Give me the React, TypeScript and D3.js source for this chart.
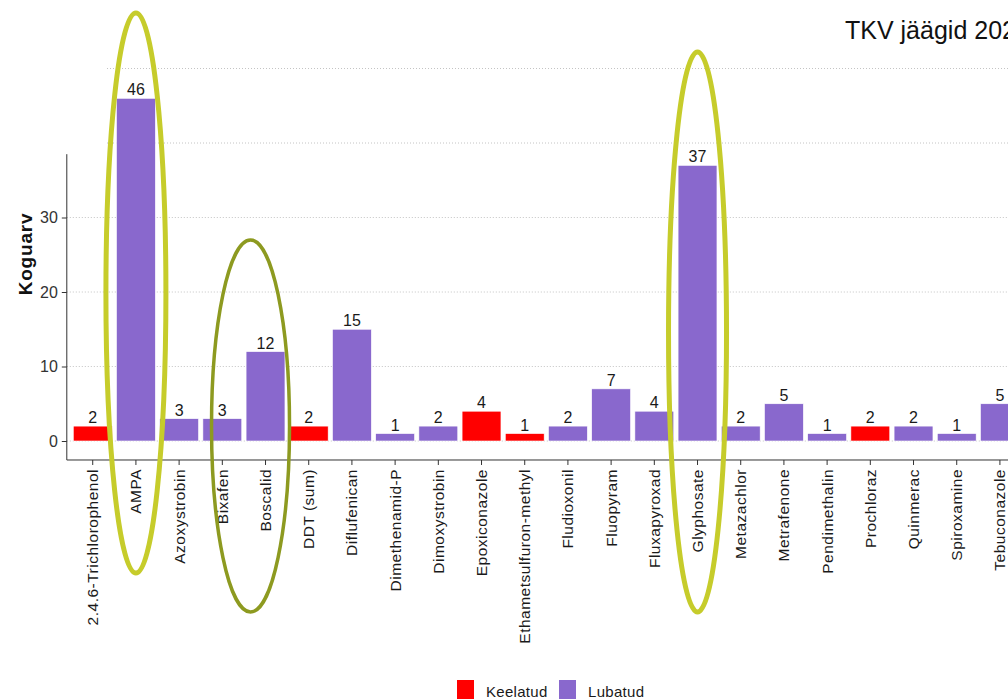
import React, { useEffect, useRef } from 'react';
import * as d3 from 'd3';

// substances found in the samples, in axis order
const substances = [
  '2.4.6-Trichlorophenol', 'AMPA', 'Azoxystrobin', 'Bixafen', 'Boscalid', 'DDT (sum)',
  'Diflufenican', 'Dimethenamid-P', 'Dimoxystrobin', 'Epoxiconazole', 'Ethametsulfuron-methyl',
  'Fludioxonil', 'Fluopyram', 'Fluxapyroxad', 'Glyphosate', 'Metazachlor', 'Metrafenone',
  'Pendimethalin', 'Prochloraz', 'Quinmerac', 'Spiroxamine', 'Tebuconazole',
];
const counts = [2, 46, 3, 3, 12, 2, 15, 1, 2, 4, 1, 2, 7, 4, 37, 2, 5, 1, 2, 2, 1, 5];
const status = [
  'Keelatud', 'Lubatud', 'Lubatud', 'Lubatud', 'Lubatud', 'Keelatud', 'Lubatud', 'Lubatud',
  'Lubatud', 'Keelatud', 'Keelatud', 'Lubatud', 'Lubatud', 'Lubatud', 'Lubatud', 'Lubatud',
  'Lubatud', 'Lubatud', 'Keelatud', 'Lubatud', 'Lubatud', 'Lubatud',
];
const legendGroups = ['Keelatud', 'Lubatud'];
const groupColors = ['#FF0000', '#8968CD'];
const yTicks = [0, 10, 20, 30];
const gridValues = [0, 10, 20, 30, 40, 50];
const title = 'TKV jäägid 2023';
const yTitle = 'Koguarv';

const W = 1008;
const H = 700;
const FONT = '"Liberation Sans", Arial, sans-serif';

const App = () => {
  const svgRef = useRef<SVGSVGElement>(null);

  useEffect(() => {
    const svg = d3.select(svgRef.current);
    svg.selectAll('*').remove();

    const step = 43.2;
    const left = 66.8;
    const xScale = d3.scaleBand()
      .domain(substances)
      .range([left, left + step * (substances.length + 0.2)])
      .paddingInner(0.1)
      .paddingOuter(0.15);
    const yScale = d3.scaleLinear().domain([0, 50]).range([441, 68.5]);
    const color = d3.scaleOrdinal<string, string>().domain(legendGroups).range(groupColors);
    const center = (name: string) => (xScale(name) as number) + xScale.bandwidth() / 2;

    const data = substances.map((name, i) => ({ name, value: counts[i], group: status[i] }));
    const axisY = yScale(-2.55);

    // dotted grid lines
    svg.append('g')
      .selectAll('line')
      .data(gridValues)
      .enter()
      .append('line')
      .attr('x1', d => (d > 30 ? 107 : left))
      .attr('x2', W)
      .attr('y1', d => yScale(d))
      .attr('y2', d => yScale(d))
      .attr('stroke', '#c4c4c4')
      .attr('stroke-width', 1)
      .attr('stroke-dasharray', '1,2');

    // bars
    svg.append('g')
      .selectAll('rect')
      .data(data)
      .enter()
      .append('rect')
      .attr('x', d => xScale(d.name) as number)
      .attr('y', d => yScale(d.value))
      .attr('width', xScale.bandwidth())
      .attr('height', d => yScale(0) - yScale(d.value))
      .attr('fill', d => color(d.group))
      .attr('stroke', '#ffffff')
      .attr('stroke-width', 0.6);

    // value labels
    svg.append('g')
      .selectAll('text')
      .data(data)
      .enter()
      .append('text')
      .attr('x', d => center(d.name))
      .attr('y', d => yScale(d.value) - 3)
      .attr('text-anchor', 'middle')
      .attr('font-family', FONT)
      .attr('font-size', 16)
      .attr('fill', '#1a1a1a')
      .text(d => d.value);

    // y axis
    const yAxis = svg.append('g')
      .attr('transform', `translate(${left}, 0)`)
      .call(d3.axisLeft(yScale).tickValues(yTicks).tickSize(5).tickPadding(4));
    yAxis.select('.domain').remove();
    yAxis.selectAll('line').attr('stroke', '#333');
    yAxis.selectAll('text')
      .attr('font-family', FONT)
      .attr('font-size', 16)
      .attr('fill', '#333');
    svg.append('line')
      .attr('x1', left).attr('x2', left)
      .attr('y1', axisY).attr('y2', yScale(38.5))
      .attr('stroke', '#333');

    // x axis
    const xAxis = svg.append('g')
      .attr('transform', `translate(0, ${axisY})`)
      .call(d3.axisBottom(xScale).tickSize(5).tickSizeOuter(0));
    xAxis.select('.domain').remove();
    xAxis.selectAll('line').attr('stroke', '#333');
    xAxis.selectAll('text')
      .attr('transform', 'rotate(-90)')
      .attr('text-anchor', 'end')
      .attr('x', -9)
      .attr('y', 0)
      .attr('dy', '0.35em')
      .attr('font-family', FONT)
      .attr('font-size', 15.5)
      .attr('letter-spacing', 0.5)
      .attr('fill', '#1a1a1a');
    svg.append('line')
      .attr('x1', left).attr('x2', W)
      .attr('y1', axisY).attr('y2', axisY)
      .attr('stroke', '#333');

    // y title
    svg.append('text')
      .attr('transform', `translate(32, 254) rotate(-90)`)
      .attr('text-anchor', 'middle')
      .attr('font-family', FONT)
      .attr('font-size', 19)
      .attr('font-weight', 'bold')
      .attr('letter-spacing', 0.8)
      .attr('fill', '#111')
      .text(yTitle);

    // title (runs past the right edge, as in the source image)
    svg.append('text')
      .attr('x', 845)
      .attr('y', 39)
      .attr('font-family', FONT)
      .attr('font-size', 25)
      .attr('fill', '#111')
      .text(title);

    // highlight ellipses
    const marks = [
      { name: 'AMPA', dx: 0, cy: 293, rx: 30, ry: 280, stroke: '#C6CC2B', width: 5 },
      { name: 'Boscalid', dx: -15, cy: 426, rx: 39, ry: 186, stroke: '#8D9A20', width: 3.5 },
      { name: 'Glyphosate', dx: 0, cy: 332, rx: 29, ry: 280, stroke: '#C6CC2B', width: 5 },
    ];
    svg.append('g')
      .selectAll('ellipse')
      .data(marks)
      .enter()
      .append('ellipse')
      .attr('cx', d => center(d.name) + d.dx)
      .attr('cy', d => d.cy)
      .attr('rx', d => d.rx)
      .attr('ry', d => d.ry)
      .attr('fill', 'none')
      .attr('stroke', d => d.stroke)
      .attr('stroke-width', d => d.width);

    // legend
    const legend = svg.append('g').attr('transform', 'translate(457, 680)');
    const item = legend.selectAll('g')
      .data(legendGroups)
      .enter()
      .append('g')
      .attr('transform', (d, i) => `translate(${i * 102}, 0)`);
    item.append('rect')
      .attr('width', 17)
      .attr('height', 19)
      .attr('fill', d => color(d));
    item.append('text')
      .attr('x', 29)
      .attr('y', 17)
      .attr('font-family', FONT)
      .attr('font-size', 15)
      .attr('letter-spacing', 0.3)
      .attr('fill', '#1a1a1a')
      .text(d => d);
  }, []);

  return (
    <svg
      ref={svgRef}
      width={W}
      height={H}
      style={{ position: 'absolute', left: 0, top: 0, background: '#fff' }}
    />
  );
};

export default App;
